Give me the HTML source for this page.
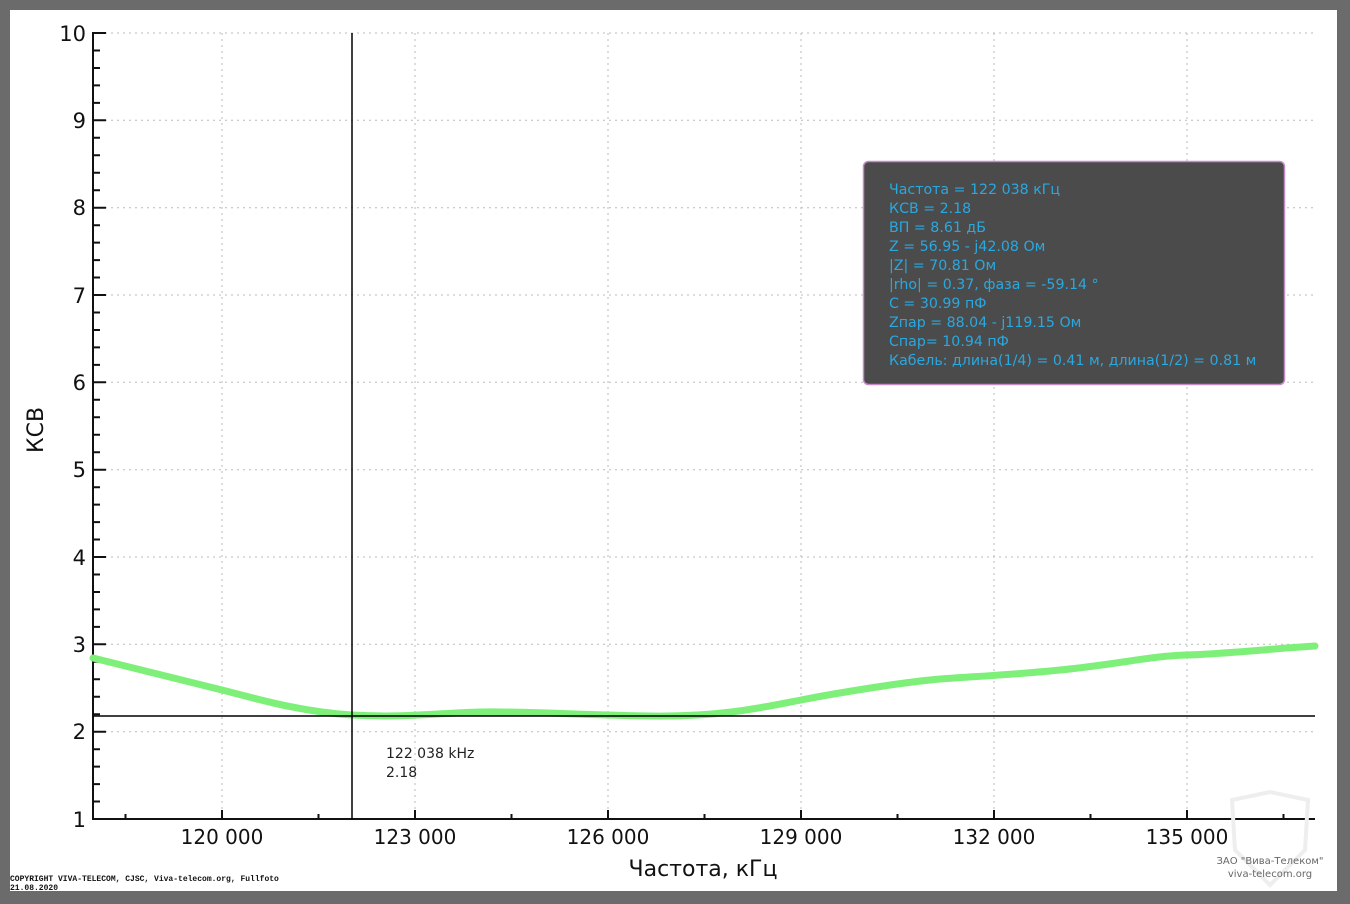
<!DOCTYPE html>
<html><head><meta charset="utf-8"><style>
body{margin:0;width:1350px;height:904px;background:#6b6b6b;overflow:hidden}
svg{position:absolute;left:0;top:0}
</style></head><body>
<svg width="1350" height="904" xmlns="http://www.w3.org/2000/svg" font-family="'DejaVu Sans','Liberation Sans',sans-serif">
<rect x="10" y="10" width="1327" height="881" fill="#fff"/>
<g stroke="#bbb" stroke-width="1" stroke-dasharray="2,4">
<line x1="93" y1="33" x2="1315" y2="33"/><line x1="93" y1="120.3" x2="1315" y2="120.3"/>
<line x1="93" y1="207.7" x2="1315" y2="207.7"/><line x1="93" y1="295" x2="1315" y2="295"/>
<line x1="93" y1="382.3" x2="1315" y2="382.3"/><line x1="93" y1="469.7" x2="1315" y2="469.7"/>
<line x1="93" y1="557" x2="1315" y2="557"/><line x1="93" y1="644.3" x2="1315" y2="644.3"/>
<line x1="93" y1="731.7" x2="1315" y2="731.7"/>
<line x1="222" y1="33" x2="222" y2="819"/><line x1="415" y1="33" x2="415" y2="819"/>
<line x1="608" y1="33" x2="608" y2="819"/><line x1="801" y1="33" x2="801" y2="819"/>
<line x1="994" y1="33" x2="994" y2="819"/><line x1="1187" y1="33" x2="1187" y2="819"/>
</g>
<g stroke="#111" stroke-width="2">
<line x1="93" y1="32" x2="93" y2="820"/><line x1="92" y1="819" x2="1315" y2="819"/>
</g>
<g stroke="#111" stroke-width="2">
<path d="M93 33h13M93 120.3h13M93 207.7h13M93 295h13M93 382.3h13M93 469.7h13M93 557h13M93 644.3h13M93 731.7h13"/>
<path d="M93 50.5h7M93 68h7M93 85.4h7M93 102.9h7M93 137.8h7M93 155.3h7M93 172.7h7M93 190.2h7M93 225.2h7M93 242.6h7M93 260.1h7M93 277.5h7M93 312.5h7M93 330h7M93 347.4h7M93 364.9h7M93 399.8h7M93 417.3h7M93 434.8h7M93 452.2h7M93 487.2h7M93 504.6h7M93 522.1h7M93 539.5h7M93 574.5h7M93 592h7M93 609.4h7M93 626.9h7M93 661.8h7M93 679.3h7M93 696.8h7M93 714.2h7M93 749.2h7M93 766.6h7M93 784.1h7M93 801.5h7"/>
<path d="M222 819v-9M415 819v-9M608 819v-9M801 819v-9M994 819v-9M1187 819v-9M125.5 819v-5M318.5 819v-5M511.5 819v-5M704.5 819v-5M897.5 819v-5M1090.5 819v-5M1283.5 819v-5"/>
</g>
<g font-size="21" fill="#111" text-anchor="end">
<text x="86" y="41">10</text><text x="86" y="128">9</text><text x="86" y="215">8</text>
<text x="86" y="303">7</text><text x="86" y="390">6</text><text x="86" y="477">5</text>
<text x="86" y="565">4</text><text x="86" y="652">3</text><text x="86" y="739">2</text><text x="86" y="827">1</text>
</g>
<g font-size="20" fill="#111" text-anchor="middle">
<text x="222" y="844">120 000</text><text x="415" y="844">123 000</text><text x="608" y="844">126 000</text>
<text x="801" y="844">129 000</text><text x="994" y="844">132 000</text><text x="1187" y="844">135 000</text>
</g>
<text x="703" y="876" font-size="22" fill="#111" text-anchor="middle">Частота, кГц</text>
<text transform="translate(43,430) rotate(-90)" font-size="22" fill="#111" text-anchor="middle">КСВ</text>
<path d="M93 658 C150 672,190 682,222 690 S300 712,352 715 S440 713,480 712 S580 715,650 716 S760 708,801 700 S900 683,930 680 S1000 676,1060 670 S1150 656,1187 655 S1280 648,1315 646" fill="none" stroke="#7ef07a" stroke-width="7" stroke-linecap="round"/>
<line x1="352" y1="33" x2="352" y2="819" stroke="#000" stroke-width="1.5"/>
<line x1="93" y1="716" x2="1315" y2="716" stroke="#000" stroke-width="1.5"/>
<text x="386" y="758" font-size="14" fill="#222">122 038 kHz</text>
<text x="386" y="777" font-size="14" fill="#222">2.18</text>
<rect x="863.5" y="161.5" width="421" height="223" rx="5" fill="#4b4b4b" stroke="#c58bc5" stroke-width="1.5"/>
<g font-size="14.2" fill="#2aa8e0">
<text x="889" y="194">Частота = 122 038 кГц</text>
<text x="889" y="213">КСВ = 2.18</text>
<text x="889" y="232">ВП = 8.61 дБ</text>
<text x="889" y="251">Z = 56.95 - j42.08 Ом</text>
<text x="889" y="270">|Z| = 70.81 Ом</text>
<text x="889" y="289">|rho| = 0.37, фаза = -59.14 °</text>
<text x="889" y="308">C = 30.99 пФ</text>
<text x="889" y="327">Zпар = 88.04 - j119.15 Ом</text>
<text x="889" y="346">Cпар= 10.94 пФ</text>
<text x="889" y="365">Кабель: длина(1/4) = 0.41 м, длина(1/2) = 0.81 м</text>
</g>
<g font-family="'Liberation Mono',monospace" font-size="8" fill="#111" font-weight="bold">
<text x="10" y="881">COPYRIGHT VIVA-TELECOM, CJSC, Viva-telecom.org, Fullfoto</text>
<text x="10" y="890">21.08.2020</text>
</g>
<path d="M1232 800 L1270 792 L1308 800 L1305 850 L1270 885 L1235 850 Z" fill="none" stroke="#eeeeee" stroke-width="4"/>
<g font-size="10" fill="#666" text-anchor="middle">
<text x="1270" y="864">ЗАО "Вива-Телеком"</text>
<text x="1270" y="877">viva-telecom.org</text>
</g>
</svg>
</body></html>
